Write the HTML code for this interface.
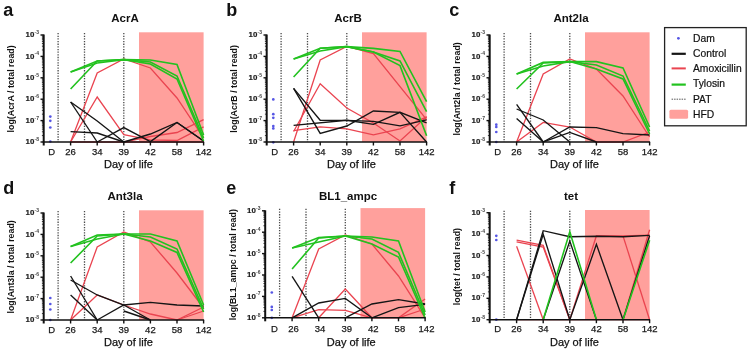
<!DOCTYPE html><html><head><meta charset="utf-8"><style>html,body{margin:0;padding:0;background:#fff;}svg{display:block;filter:blur(0.35px);}</style></head><body>
<svg width="750" height="352" viewBox="0 0 750 352" style="font-family:&quot;Liberation Sans&quot;, sans-serif">
<rect width="750" height="352" fill="#fff"/>
<text x="3.2" y="15.6" font-size="18" font-weight="bold" fill="#111">a</text>
<text x="125" y="22.4" font-size="11.5" font-weight="bold" fill="#111" text-anchor="middle">AcrA</text>
<g transform="translate(0,0)">
<rect x="139" y="32.3" width="64.6" height="109.7" fill="#ffa09c"/>
<line x1="58.1" y1="33" x2="58.1" y2="142" stroke="#4a4a4a" stroke-width="1.3" stroke-dasharray="1.3,1.35"/>
<line x1="84.5" y1="33" x2="84.5" y2="142" stroke="#4a4a4a" stroke-width="1.3" stroke-dasharray="1.3,1.35"/>
<line x1="123.8" y1="33" x2="123.8" y2="142" stroke="#4a4a4a" stroke-width="1.3" stroke-dasharray="1.3,1.35"/>
<circle cx="50.3" cy="116.6" r="1.35" fill="#5656e4"/>
<circle cx="50.3" cy="120.8" r="1.35" fill="#5656e4"/>
<circle cx="50.3" cy="127.5" r="1.35" fill="#5656e4"/>
<circle cx="50.3" cy="141.5" r="1.35" fill="#5656e4"/>
<polyline points="70.6,142 97.2,73 123.8,59 150.4,68 177,98 203.6,138" fill="none" stroke="#ea4450" stroke-width="1.3" stroke-linejoin="miter"/>
<polyline points="70.6,142 97.2,97 123.8,134.6 150.4,139.8 177,140.5 203.6,126.8" fill="none" stroke="#ea4450" stroke-width="1.3" stroke-linejoin="miter"/>
<polyline points="70.6,142 97.2,142 123.8,142 150.4,142 177,142 203.6,142" fill="none" stroke="#ea4450" stroke-width="1.3" stroke-linejoin="miter"/>
<polyline points="123.8,142 150.4,136.5 177,132.5 203.6,119.6" fill="none" stroke="#ea4450" stroke-width="1.3" stroke-linejoin="miter"/>
<polyline points="70.6,102 97.2,142" fill="none" stroke="#151515" stroke-width="1.35" stroke-linejoin="miter"/>
<polyline points="70.6,102 97.2,121 123.8,142" fill="none" stroke="#151515" stroke-width="1.35" stroke-linejoin="miter"/>
<polyline points="70.6,131.7 97.2,133 123.8,142" fill="none" stroke="#151515" stroke-width="1.35" stroke-linejoin="miter"/>
<polyline points="97.2,142 123.8,127.6 150.4,141.6 177,122.5 203.6,141" fill="none" stroke="#151515" stroke-width="1.35" stroke-linejoin="miter"/>
<polyline points="123.8,142 150.4,134 177,122.5 203.6,141" fill="none" stroke="#151515" stroke-width="1.35" stroke-linejoin="miter"/>
<polyline points="70.6,72 97.2,61 123.8,59.6 150.4,60 177,64.4 203.6,135" fill="none" stroke="#22c21f" stroke-width="1.6" stroke-linejoin="miter"/>
<polyline points="70.6,89 97.2,61 123.8,59.6 150.4,62 177,76 203.6,138" fill="none" stroke="#22c21f" stroke-width="1.6" stroke-linejoin="miter"/>
<polyline points="70.6,72 97.2,63 123.8,59.6 150.4,64 177,79 203.6,141" fill="none" stroke="#22c21f" stroke-width="1.6" stroke-linejoin="miter"/>
<line x1="43.7" y1="34.5" x2="43.7" y2="145.5" stroke="#111" stroke-width="2"/>
<line x1="42.7" y1="142" x2="204.1" y2="142" stroke="#111" stroke-width="1.5"/>
<line x1="40.5" y1="35" x2="43.7" y2="35" stroke="#111" stroke-width="1.4"/>
<text x="34.3" y="37.2" font-size="7.9" font-weight="bold" fill="#1a1a1a" stroke="#1a1a1a" stroke-width="0.2" text-anchor="end">10</text>
<text x="34.6" y="34" font-size="5" font-weight="bold" fill="#444">-3</text>
<line x1="41.9" y1="49.96" x2="43.7" y2="49.96" stroke="#111" stroke-width="0.8"/>
<line x1="41.9" y1="46.19" x2="43.7" y2="46.19" stroke="#111" stroke-width="0.8"/>
<line x1="41.9" y1="43.52" x2="43.7" y2="43.52" stroke="#111" stroke-width="0.8"/>
<line x1="41.9" y1="41.44" x2="43.7" y2="41.44" stroke="#111" stroke-width="0.8"/>
<line x1="41.9" y1="39.75" x2="43.7" y2="39.75" stroke="#111" stroke-width="0.8"/>
<line x1="41.9" y1="38.31" x2="43.7" y2="38.31" stroke="#111" stroke-width="0.8"/>
<line x1="41.9" y1="37.07" x2="43.7" y2="37.07" stroke="#111" stroke-width="0.8"/>
<line x1="41.9" y1="35.98" x2="43.7" y2="35.98" stroke="#111" stroke-width="0.8"/>
<line x1="40.5" y1="56.4" x2="43.7" y2="56.4" stroke="#111" stroke-width="1.4"/>
<text x="34.3" y="58.6" font-size="7.9" font-weight="bold" fill="#1a1a1a" stroke="#1a1a1a" stroke-width="0.2" text-anchor="end">10</text>
<text x="34.6" y="55.4" font-size="5" font-weight="bold" fill="#444">-4</text>
<line x1="41.9" y1="71.36" x2="43.7" y2="71.36" stroke="#111" stroke-width="0.8"/>
<line x1="41.9" y1="67.59" x2="43.7" y2="67.59" stroke="#111" stroke-width="0.8"/>
<line x1="41.9" y1="64.92" x2="43.7" y2="64.92" stroke="#111" stroke-width="0.8"/>
<line x1="41.9" y1="62.84" x2="43.7" y2="62.84" stroke="#111" stroke-width="0.8"/>
<line x1="41.9" y1="61.15" x2="43.7" y2="61.15" stroke="#111" stroke-width="0.8"/>
<line x1="41.9" y1="59.71" x2="43.7" y2="59.71" stroke="#111" stroke-width="0.8"/>
<line x1="41.9" y1="58.47" x2="43.7" y2="58.47" stroke="#111" stroke-width="0.8"/>
<line x1="41.9" y1="57.38" x2="43.7" y2="57.38" stroke="#111" stroke-width="0.8"/>
<line x1="40.5" y1="77.8" x2="43.7" y2="77.8" stroke="#111" stroke-width="1.4"/>
<text x="34.3" y="80" font-size="7.9" font-weight="bold" fill="#1a1a1a" stroke="#1a1a1a" stroke-width="0.2" text-anchor="end">10</text>
<text x="34.6" y="76.8" font-size="5" font-weight="bold" fill="#444">-5</text>
<line x1="41.9" y1="92.76" x2="43.7" y2="92.76" stroke="#111" stroke-width="0.8"/>
<line x1="41.9" y1="88.99" x2="43.7" y2="88.99" stroke="#111" stroke-width="0.8"/>
<line x1="41.9" y1="86.32" x2="43.7" y2="86.32" stroke="#111" stroke-width="0.8"/>
<line x1="41.9" y1="84.24" x2="43.7" y2="84.24" stroke="#111" stroke-width="0.8"/>
<line x1="41.9" y1="82.55" x2="43.7" y2="82.55" stroke="#111" stroke-width="0.8"/>
<line x1="41.9" y1="81.11" x2="43.7" y2="81.11" stroke="#111" stroke-width="0.8"/>
<line x1="41.9" y1="79.87" x2="43.7" y2="79.87" stroke="#111" stroke-width="0.8"/>
<line x1="41.9" y1="78.78" x2="43.7" y2="78.78" stroke="#111" stroke-width="0.8"/>
<line x1="40.5" y1="99.2" x2="43.7" y2="99.2" stroke="#111" stroke-width="1.4"/>
<text x="34.3" y="101.4" font-size="7.9" font-weight="bold" fill="#1a1a1a" stroke="#1a1a1a" stroke-width="0.2" text-anchor="end">10</text>
<text x="34.6" y="98.2" font-size="5" font-weight="bold" fill="#444">-6</text>
<line x1="41.9" y1="114.16" x2="43.7" y2="114.16" stroke="#111" stroke-width="0.8"/>
<line x1="41.9" y1="110.39" x2="43.7" y2="110.39" stroke="#111" stroke-width="0.8"/>
<line x1="41.9" y1="107.72" x2="43.7" y2="107.72" stroke="#111" stroke-width="0.8"/>
<line x1="41.9" y1="105.64" x2="43.7" y2="105.64" stroke="#111" stroke-width="0.8"/>
<line x1="41.9" y1="103.95" x2="43.7" y2="103.95" stroke="#111" stroke-width="0.8"/>
<line x1="41.9" y1="102.51" x2="43.7" y2="102.51" stroke="#111" stroke-width="0.8"/>
<line x1="41.9" y1="101.27" x2="43.7" y2="101.27" stroke="#111" stroke-width="0.8"/>
<line x1="41.9" y1="100.18" x2="43.7" y2="100.18" stroke="#111" stroke-width="0.8"/>
<line x1="40.5" y1="120.6" x2="43.7" y2="120.6" stroke="#111" stroke-width="1.4"/>
<text x="34.3" y="122.8" font-size="7.9" font-weight="bold" fill="#1a1a1a" stroke="#1a1a1a" stroke-width="0.2" text-anchor="end">10</text>
<text x="34.6" y="119.6" font-size="5" font-weight="bold" fill="#444">-7</text>
<line x1="41.9" y1="135.56" x2="43.7" y2="135.56" stroke="#111" stroke-width="0.8"/>
<line x1="41.9" y1="131.79" x2="43.7" y2="131.79" stroke="#111" stroke-width="0.8"/>
<line x1="41.9" y1="129.12" x2="43.7" y2="129.12" stroke="#111" stroke-width="0.8"/>
<line x1="41.9" y1="127.04" x2="43.7" y2="127.04" stroke="#111" stroke-width="0.8"/>
<line x1="41.9" y1="125.35" x2="43.7" y2="125.35" stroke="#111" stroke-width="0.8"/>
<line x1="41.9" y1="123.91" x2="43.7" y2="123.91" stroke="#111" stroke-width="0.8"/>
<line x1="41.9" y1="122.67" x2="43.7" y2="122.67" stroke="#111" stroke-width="0.8"/>
<line x1="41.9" y1="121.58" x2="43.7" y2="121.58" stroke="#111" stroke-width="0.8"/>
<line x1="40.5" y1="142" x2="43.7" y2="142" stroke="#111" stroke-width="1.4"/>
<text x="34.3" y="144.2" font-size="7.9" font-weight="bold" fill="#1a1a1a" stroke="#1a1a1a" stroke-width="0.2" text-anchor="end">10</text>
<text x="34.6" y="141" font-size="5" font-weight="bold" fill="#444">-8</text>
<line x1="70.6" y1="142" x2="70.6" y2="145.5" stroke="#111" stroke-width="1.4"/>
<text x="70.6" y="154.6" font-size="9.5" fill="#1a1a1a" stroke="#1a1a1a" stroke-width="0.25" text-anchor="middle">26</text>
<line x1="97.2" y1="142" x2="97.2" y2="145.5" stroke="#111" stroke-width="1.4"/>
<text x="97.2" y="154.6" font-size="9.5" fill="#1a1a1a" stroke="#1a1a1a" stroke-width="0.25" text-anchor="middle">34</text>
<line x1="123.8" y1="142" x2="123.8" y2="145.5" stroke="#111" stroke-width="1.4"/>
<text x="123.8" y="154.6" font-size="9.5" fill="#1a1a1a" stroke="#1a1a1a" stroke-width="0.25" text-anchor="middle">39</text>
<line x1="150.4" y1="142" x2="150.4" y2="145.5" stroke="#111" stroke-width="1.4"/>
<text x="150.4" y="154.6" font-size="9.5" fill="#1a1a1a" stroke="#1a1a1a" stroke-width="0.25" text-anchor="middle">42</text>
<line x1="177" y1="142" x2="177" y2="145.5" stroke="#111" stroke-width="1.4"/>
<text x="177" y="154.6" font-size="9.5" fill="#1a1a1a" stroke="#1a1a1a" stroke-width="0.25" text-anchor="middle">58</text>
<line x1="203.6" y1="142" x2="203.6" y2="145.5" stroke="#111" stroke-width="1.4"/>
<text x="203.6" y="154.6" font-size="9.5" fill="#1a1a1a" stroke="#1a1a1a" stroke-width="0.25" text-anchor="middle">142</text>
<text x="51.6" y="154.6" font-size="9.5" fill="#1a1a1a" stroke="#1a1a1a" stroke-width="0.25" text-anchor="middle">D</text>
<text x="128.4" y="168" font-size="11" fill="#111" stroke="#111" stroke-width="0.25" text-anchor="middle">Day of life</text>
<text transform="translate(14.2,88.9) rotate(-90)" font-size="8.85" font-weight="bold" fill="#111" text-anchor="middle">log(AcrA / total read)</text>
</g>
<text x="226.2" y="15.6" font-size="18" font-weight="bold" fill="#111">b</text>
<text x="348" y="22.4" font-size="11.5" font-weight="bold" fill="#111" text-anchor="middle">AcrB</text>
<g transform="translate(223,0)">
<rect x="139" y="32.3" width="64.6" height="109.7" fill="#ffa09c"/>
<line x1="58.1" y1="33" x2="58.1" y2="142" stroke="#4a4a4a" stroke-width="1.3" stroke-dasharray="1.3,1.35"/>
<line x1="84.5" y1="33" x2="84.5" y2="142" stroke="#4a4a4a" stroke-width="1.3" stroke-dasharray="1.3,1.35"/>
<line x1="123.8" y1="33" x2="123.8" y2="142" stroke="#4a4a4a" stroke-width="1.3" stroke-dasharray="1.3,1.35"/>
<circle cx="50.3" cy="99.4" r="1.35" fill="#5656e4"/>
<circle cx="50.3" cy="114.2" r="1.35" fill="#5656e4"/>
<circle cx="50.3" cy="117.8" r="1.35" fill="#5656e4"/>
<circle cx="50.3" cy="126" r="1.35" fill="#5656e4"/>
<circle cx="50.3" cy="128.4" r="1.35" fill="#5656e4"/>
<circle cx="50.3" cy="142.3" r="1.35" fill="#5656e4"/>
<polyline points="70.6,142 97.2,60 123.8,46.4 150.4,53.6 203.6,119.6" fill="none" stroke="#ea4450" stroke-width="1.3" stroke-linejoin="miter"/>
<polyline points="70.6,131.5 97.2,83.7 123.8,108 150.4,123 177,141 203.6,116.8" fill="none" stroke="#ea4450" stroke-width="1.3" stroke-linejoin="miter"/>
<polyline points="70.6,130.6 97.2,126.8 123.8,128.9 150.4,134.9 177,128.9 203.6,116.8" fill="none" stroke="#ea4450" stroke-width="1.3" stroke-linejoin="miter"/>
<polyline points="70.6,88.4 97.2,120.3 123.8,120.3 150.4,121.3 177,125.8 203.6,119.8" fill="none" stroke="#151515" stroke-width="1.35" stroke-linejoin="miter"/>
<polyline points="70.6,88.4 97.2,133.4 123.8,126 150.4,111 177,112.3 203.6,142" fill="none" stroke="#151515" stroke-width="1.35" stroke-linejoin="miter"/>
<polyline points="70.6,125.3 123.8,120.3 150.4,124.3 177,112.3 203.6,122.8" fill="none" stroke="#151515" stroke-width="1.35" stroke-linejoin="miter"/>
<polyline points="70.6,59 97.2,48.3 123.8,46.6 150.4,48.4 177,51.4 203.6,101.7" fill="none" stroke="#22c21f" stroke-width="1.6" stroke-linejoin="miter"/>
<polyline points="70.6,77 97.2,48.3 123.8,46.6 150.4,52 177,61 203.6,111.7" fill="none" stroke="#22c21f" stroke-width="1.6" stroke-linejoin="miter"/>
<polyline points="70.6,59 97.2,51 123.8,46.6 150.4,52 177,65.6 203.6,135.8" fill="none" stroke="#22c21f" stroke-width="1.6" stroke-linejoin="miter"/>
<line x1="43.7" y1="34.5" x2="43.7" y2="145.5" stroke="#111" stroke-width="2"/>
<line x1="42.7" y1="142" x2="204.1" y2="142" stroke="#111" stroke-width="1.5"/>
<line x1="40.5" y1="35" x2="43.7" y2="35" stroke="#111" stroke-width="1.4"/>
<text x="34.3" y="37.2" font-size="7.9" font-weight="bold" fill="#1a1a1a" stroke="#1a1a1a" stroke-width="0.2" text-anchor="end">10</text>
<text x="34.6" y="34" font-size="5" font-weight="bold" fill="#444">-3</text>
<line x1="41.9" y1="49.96" x2="43.7" y2="49.96" stroke="#111" stroke-width="0.8"/>
<line x1="41.9" y1="46.19" x2="43.7" y2="46.19" stroke="#111" stroke-width="0.8"/>
<line x1="41.9" y1="43.52" x2="43.7" y2="43.52" stroke="#111" stroke-width="0.8"/>
<line x1="41.9" y1="41.44" x2="43.7" y2="41.44" stroke="#111" stroke-width="0.8"/>
<line x1="41.9" y1="39.75" x2="43.7" y2="39.75" stroke="#111" stroke-width="0.8"/>
<line x1="41.9" y1="38.31" x2="43.7" y2="38.31" stroke="#111" stroke-width="0.8"/>
<line x1="41.9" y1="37.07" x2="43.7" y2="37.07" stroke="#111" stroke-width="0.8"/>
<line x1="41.9" y1="35.98" x2="43.7" y2="35.98" stroke="#111" stroke-width="0.8"/>
<line x1="40.5" y1="56.4" x2="43.7" y2="56.4" stroke="#111" stroke-width="1.4"/>
<text x="34.3" y="58.6" font-size="7.9" font-weight="bold" fill="#1a1a1a" stroke="#1a1a1a" stroke-width="0.2" text-anchor="end">10</text>
<text x="34.6" y="55.4" font-size="5" font-weight="bold" fill="#444">-4</text>
<line x1="41.9" y1="71.36" x2="43.7" y2="71.36" stroke="#111" stroke-width="0.8"/>
<line x1="41.9" y1="67.59" x2="43.7" y2="67.59" stroke="#111" stroke-width="0.8"/>
<line x1="41.9" y1="64.92" x2="43.7" y2="64.92" stroke="#111" stroke-width="0.8"/>
<line x1="41.9" y1="62.84" x2="43.7" y2="62.84" stroke="#111" stroke-width="0.8"/>
<line x1="41.9" y1="61.15" x2="43.7" y2="61.15" stroke="#111" stroke-width="0.8"/>
<line x1="41.9" y1="59.71" x2="43.7" y2="59.71" stroke="#111" stroke-width="0.8"/>
<line x1="41.9" y1="58.47" x2="43.7" y2="58.47" stroke="#111" stroke-width="0.8"/>
<line x1="41.9" y1="57.38" x2="43.7" y2="57.38" stroke="#111" stroke-width="0.8"/>
<line x1="40.5" y1="77.8" x2="43.7" y2="77.8" stroke="#111" stroke-width="1.4"/>
<text x="34.3" y="80" font-size="7.9" font-weight="bold" fill="#1a1a1a" stroke="#1a1a1a" stroke-width="0.2" text-anchor="end">10</text>
<text x="34.6" y="76.8" font-size="5" font-weight="bold" fill="#444">-5</text>
<line x1="41.9" y1="92.76" x2="43.7" y2="92.76" stroke="#111" stroke-width="0.8"/>
<line x1="41.9" y1="88.99" x2="43.7" y2="88.99" stroke="#111" stroke-width="0.8"/>
<line x1="41.9" y1="86.32" x2="43.7" y2="86.32" stroke="#111" stroke-width="0.8"/>
<line x1="41.9" y1="84.24" x2="43.7" y2="84.24" stroke="#111" stroke-width="0.8"/>
<line x1="41.9" y1="82.55" x2="43.7" y2="82.55" stroke="#111" stroke-width="0.8"/>
<line x1="41.9" y1="81.11" x2="43.7" y2="81.11" stroke="#111" stroke-width="0.8"/>
<line x1="41.9" y1="79.87" x2="43.7" y2="79.87" stroke="#111" stroke-width="0.8"/>
<line x1="41.9" y1="78.78" x2="43.7" y2="78.78" stroke="#111" stroke-width="0.8"/>
<line x1="40.5" y1="99.2" x2="43.7" y2="99.2" stroke="#111" stroke-width="1.4"/>
<text x="34.3" y="101.4" font-size="7.9" font-weight="bold" fill="#1a1a1a" stroke="#1a1a1a" stroke-width="0.2" text-anchor="end">10</text>
<text x="34.6" y="98.2" font-size="5" font-weight="bold" fill="#444">-6</text>
<line x1="41.9" y1="114.16" x2="43.7" y2="114.16" stroke="#111" stroke-width="0.8"/>
<line x1="41.9" y1="110.39" x2="43.7" y2="110.39" stroke="#111" stroke-width="0.8"/>
<line x1="41.9" y1="107.72" x2="43.7" y2="107.72" stroke="#111" stroke-width="0.8"/>
<line x1="41.9" y1="105.64" x2="43.7" y2="105.64" stroke="#111" stroke-width="0.8"/>
<line x1="41.9" y1="103.95" x2="43.7" y2="103.95" stroke="#111" stroke-width="0.8"/>
<line x1="41.9" y1="102.51" x2="43.7" y2="102.51" stroke="#111" stroke-width="0.8"/>
<line x1="41.9" y1="101.27" x2="43.7" y2="101.27" stroke="#111" stroke-width="0.8"/>
<line x1="41.9" y1="100.18" x2="43.7" y2="100.18" stroke="#111" stroke-width="0.8"/>
<line x1="40.5" y1="120.6" x2="43.7" y2="120.6" stroke="#111" stroke-width="1.4"/>
<text x="34.3" y="122.8" font-size="7.9" font-weight="bold" fill="#1a1a1a" stroke="#1a1a1a" stroke-width="0.2" text-anchor="end">10</text>
<text x="34.6" y="119.6" font-size="5" font-weight="bold" fill="#444">-7</text>
<line x1="41.9" y1="135.56" x2="43.7" y2="135.56" stroke="#111" stroke-width="0.8"/>
<line x1="41.9" y1="131.79" x2="43.7" y2="131.79" stroke="#111" stroke-width="0.8"/>
<line x1="41.9" y1="129.12" x2="43.7" y2="129.12" stroke="#111" stroke-width="0.8"/>
<line x1="41.9" y1="127.04" x2="43.7" y2="127.04" stroke="#111" stroke-width="0.8"/>
<line x1="41.9" y1="125.35" x2="43.7" y2="125.35" stroke="#111" stroke-width="0.8"/>
<line x1="41.9" y1="123.91" x2="43.7" y2="123.91" stroke="#111" stroke-width="0.8"/>
<line x1="41.9" y1="122.67" x2="43.7" y2="122.67" stroke="#111" stroke-width="0.8"/>
<line x1="41.9" y1="121.58" x2="43.7" y2="121.58" stroke="#111" stroke-width="0.8"/>
<line x1="40.5" y1="142" x2="43.7" y2="142" stroke="#111" stroke-width="1.4"/>
<text x="34.3" y="144.2" font-size="7.9" font-weight="bold" fill="#1a1a1a" stroke="#1a1a1a" stroke-width="0.2" text-anchor="end">10</text>
<text x="34.6" y="141" font-size="5" font-weight="bold" fill="#444">-8</text>
<line x1="70.6" y1="142" x2="70.6" y2="145.5" stroke="#111" stroke-width="1.4"/>
<text x="70.6" y="154.6" font-size="9.5" fill="#1a1a1a" stroke="#1a1a1a" stroke-width="0.25" text-anchor="middle">26</text>
<line x1="97.2" y1="142" x2="97.2" y2="145.5" stroke="#111" stroke-width="1.4"/>
<text x="97.2" y="154.6" font-size="9.5" fill="#1a1a1a" stroke="#1a1a1a" stroke-width="0.25" text-anchor="middle">34</text>
<line x1="123.8" y1="142" x2="123.8" y2="145.5" stroke="#111" stroke-width="1.4"/>
<text x="123.8" y="154.6" font-size="9.5" fill="#1a1a1a" stroke="#1a1a1a" stroke-width="0.25" text-anchor="middle">39</text>
<line x1="150.4" y1="142" x2="150.4" y2="145.5" stroke="#111" stroke-width="1.4"/>
<text x="150.4" y="154.6" font-size="9.5" fill="#1a1a1a" stroke="#1a1a1a" stroke-width="0.25" text-anchor="middle">42</text>
<line x1="177" y1="142" x2="177" y2="145.5" stroke="#111" stroke-width="1.4"/>
<text x="177" y="154.6" font-size="9.5" fill="#1a1a1a" stroke="#1a1a1a" stroke-width="0.25" text-anchor="middle">58</text>
<line x1="203.6" y1="142" x2="203.6" y2="145.5" stroke="#111" stroke-width="1.4"/>
<text x="203.6" y="154.6" font-size="9.5" fill="#1a1a1a" stroke="#1a1a1a" stroke-width="0.25" text-anchor="middle">142</text>
<text x="51.6" y="154.6" font-size="9.5" fill="#1a1a1a" stroke="#1a1a1a" stroke-width="0.25" text-anchor="middle">D</text>
<text x="128.4" y="168" font-size="11" fill="#111" stroke="#111" stroke-width="0.25" text-anchor="middle">Day of life</text>
<text transform="translate(14.2,88.9) rotate(-90)" font-size="8.85" font-weight="bold" fill="#111" text-anchor="middle">log(AcrB / total read)</text>
</g>
<text x="449.2" y="15.6" font-size="18" font-weight="bold" fill="#111">c</text>
<text x="571" y="22.4" font-size="11.5" font-weight="bold" fill="#111" text-anchor="middle">Ant2la</text>
<g transform="translate(446,0)">
<rect x="139" y="32.3" width="64.6" height="109.7" fill="#ffa09c"/>
<line x1="58.1" y1="33" x2="58.1" y2="142" stroke="#4a4a4a" stroke-width="1.3" stroke-dasharray="1.3,1.35"/>
<line x1="84.5" y1="33" x2="84.5" y2="142" stroke="#4a4a4a" stroke-width="1.3" stroke-dasharray="1.3,1.35"/>
<line x1="123.8" y1="33" x2="123.8" y2="142" stroke="#4a4a4a" stroke-width="1.3" stroke-dasharray="1.3,1.35"/>
<circle cx="50.3" cy="124.7" r="1.35" fill="#5656e4"/>
<circle cx="50.3" cy="127" r="1.35" fill="#5656e4"/>
<circle cx="50.3" cy="132" r="1.35" fill="#5656e4"/>
<circle cx="50.3" cy="142" r="1.35" fill="#5656e4"/>
<polyline points="70.6,142 97.2,74 123.8,59 150.4,69 177,96 203.6,137" fill="none" stroke="#ea4450" stroke-width="1.3" stroke-linejoin="miter"/>
<polyline points="70.6,142 97.2,122.4 123.8,127 150.4,142 177,142 203.6,132" fill="none" stroke="#ea4450" stroke-width="1.3" stroke-linejoin="miter"/>
<polyline points="70.6,104.4 97.2,142" fill="none" stroke="#151515" stroke-width="1.35" stroke-linejoin="miter"/>
<polyline points="70.6,109 97.2,120 123.8,142" fill="none" stroke="#151515" stroke-width="1.35" stroke-linejoin="miter"/>
<polyline points="70.6,118.4 97.2,142 123.8,132.4 150.4,142" fill="none" stroke="#151515" stroke-width="1.35" stroke-linejoin="miter"/>
<polyline points="97.2,142 123.8,127 150.4,127.6 177,133.6 203.6,135" fill="none" stroke="#151515" stroke-width="1.35" stroke-linejoin="miter"/>
<polyline points="70.6,74 97.2,62.4 123.8,61.6 150.4,61.6 177,68 203.6,127" fill="none" stroke="#22c21f" stroke-width="1.6" stroke-linejoin="miter"/>
<polyline points="70.6,89 97.2,63 123.8,61.6 150.4,65 177,76 203.6,131" fill="none" stroke="#22c21f" stroke-width="1.6" stroke-linejoin="miter"/>
<polyline points="70.6,74 97.2,66 123.8,61.6 150.4,69 177,79 203.6,134" fill="none" stroke="#22c21f" stroke-width="1.6" stroke-linejoin="miter"/>
<line x1="43.7" y1="34.5" x2="43.7" y2="145.5" stroke="#111" stroke-width="2"/>
<line x1="42.7" y1="142" x2="204.1" y2="142" stroke="#111" stroke-width="1.5"/>
<line x1="40.5" y1="35" x2="43.7" y2="35" stroke="#111" stroke-width="1.4"/>
<text x="34.3" y="37.2" font-size="7.9" font-weight="bold" fill="#1a1a1a" stroke="#1a1a1a" stroke-width="0.2" text-anchor="end">10</text>
<text x="34.6" y="34" font-size="5" font-weight="bold" fill="#444">-3</text>
<line x1="41.9" y1="49.96" x2="43.7" y2="49.96" stroke="#111" stroke-width="0.8"/>
<line x1="41.9" y1="46.19" x2="43.7" y2="46.19" stroke="#111" stroke-width="0.8"/>
<line x1="41.9" y1="43.52" x2="43.7" y2="43.52" stroke="#111" stroke-width="0.8"/>
<line x1="41.9" y1="41.44" x2="43.7" y2="41.44" stroke="#111" stroke-width="0.8"/>
<line x1="41.9" y1="39.75" x2="43.7" y2="39.75" stroke="#111" stroke-width="0.8"/>
<line x1="41.9" y1="38.31" x2="43.7" y2="38.31" stroke="#111" stroke-width="0.8"/>
<line x1="41.9" y1="37.07" x2="43.7" y2="37.07" stroke="#111" stroke-width="0.8"/>
<line x1="41.9" y1="35.98" x2="43.7" y2="35.98" stroke="#111" stroke-width="0.8"/>
<line x1="40.5" y1="56.4" x2="43.7" y2="56.4" stroke="#111" stroke-width="1.4"/>
<text x="34.3" y="58.6" font-size="7.9" font-weight="bold" fill="#1a1a1a" stroke="#1a1a1a" stroke-width="0.2" text-anchor="end">10</text>
<text x="34.6" y="55.4" font-size="5" font-weight="bold" fill="#444">-4</text>
<line x1="41.9" y1="71.36" x2="43.7" y2="71.36" stroke="#111" stroke-width="0.8"/>
<line x1="41.9" y1="67.59" x2="43.7" y2="67.59" stroke="#111" stroke-width="0.8"/>
<line x1="41.9" y1="64.92" x2="43.7" y2="64.92" stroke="#111" stroke-width="0.8"/>
<line x1="41.9" y1="62.84" x2="43.7" y2="62.84" stroke="#111" stroke-width="0.8"/>
<line x1="41.9" y1="61.15" x2="43.7" y2="61.15" stroke="#111" stroke-width="0.8"/>
<line x1="41.9" y1="59.71" x2="43.7" y2="59.71" stroke="#111" stroke-width="0.8"/>
<line x1="41.9" y1="58.47" x2="43.7" y2="58.47" stroke="#111" stroke-width="0.8"/>
<line x1="41.9" y1="57.38" x2="43.7" y2="57.38" stroke="#111" stroke-width="0.8"/>
<line x1="40.5" y1="77.8" x2="43.7" y2="77.8" stroke="#111" stroke-width="1.4"/>
<text x="34.3" y="80" font-size="7.9" font-weight="bold" fill="#1a1a1a" stroke="#1a1a1a" stroke-width="0.2" text-anchor="end">10</text>
<text x="34.6" y="76.8" font-size="5" font-weight="bold" fill="#444">-5</text>
<line x1="41.9" y1="92.76" x2="43.7" y2="92.76" stroke="#111" stroke-width="0.8"/>
<line x1="41.9" y1="88.99" x2="43.7" y2="88.99" stroke="#111" stroke-width="0.8"/>
<line x1="41.9" y1="86.32" x2="43.7" y2="86.32" stroke="#111" stroke-width="0.8"/>
<line x1="41.9" y1="84.24" x2="43.7" y2="84.24" stroke="#111" stroke-width="0.8"/>
<line x1="41.9" y1="82.55" x2="43.7" y2="82.55" stroke="#111" stroke-width="0.8"/>
<line x1="41.9" y1="81.11" x2="43.7" y2="81.11" stroke="#111" stroke-width="0.8"/>
<line x1="41.9" y1="79.87" x2="43.7" y2="79.87" stroke="#111" stroke-width="0.8"/>
<line x1="41.9" y1="78.78" x2="43.7" y2="78.78" stroke="#111" stroke-width="0.8"/>
<line x1="40.5" y1="99.2" x2="43.7" y2="99.2" stroke="#111" stroke-width="1.4"/>
<text x="34.3" y="101.4" font-size="7.9" font-weight="bold" fill="#1a1a1a" stroke="#1a1a1a" stroke-width="0.2" text-anchor="end">10</text>
<text x="34.6" y="98.2" font-size="5" font-weight="bold" fill="#444">-6</text>
<line x1="41.9" y1="114.16" x2="43.7" y2="114.16" stroke="#111" stroke-width="0.8"/>
<line x1="41.9" y1="110.39" x2="43.7" y2="110.39" stroke="#111" stroke-width="0.8"/>
<line x1="41.9" y1="107.72" x2="43.7" y2="107.72" stroke="#111" stroke-width="0.8"/>
<line x1="41.9" y1="105.64" x2="43.7" y2="105.64" stroke="#111" stroke-width="0.8"/>
<line x1="41.9" y1="103.95" x2="43.7" y2="103.95" stroke="#111" stroke-width="0.8"/>
<line x1="41.9" y1="102.51" x2="43.7" y2="102.51" stroke="#111" stroke-width="0.8"/>
<line x1="41.9" y1="101.27" x2="43.7" y2="101.27" stroke="#111" stroke-width="0.8"/>
<line x1="41.9" y1="100.18" x2="43.7" y2="100.18" stroke="#111" stroke-width="0.8"/>
<line x1="40.5" y1="120.6" x2="43.7" y2="120.6" stroke="#111" stroke-width="1.4"/>
<text x="34.3" y="122.8" font-size="7.9" font-weight="bold" fill="#1a1a1a" stroke="#1a1a1a" stroke-width="0.2" text-anchor="end">10</text>
<text x="34.6" y="119.6" font-size="5" font-weight="bold" fill="#444">-7</text>
<line x1="41.9" y1="135.56" x2="43.7" y2="135.56" stroke="#111" stroke-width="0.8"/>
<line x1="41.9" y1="131.79" x2="43.7" y2="131.79" stroke="#111" stroke-width="0.8"/>
<line x1="41.9" y1="129.12" x2="43.7" y2="129.12" stroke="#111" stroke-width="0.8"/>
<line x1="41.9" y1="127.04" x2="43.7" y2="127.04" stroke="#111" stroke-width="0.8"/>
<line x1="41.9" y1="125.35" x2="43.7" y2="125.35" stroke="#111" stroke-width="0.8"/>
<line x1="41.9" y1="123.91" x2="43.7" y2="123.91" stroke="#111" stroke-width="0.8"/>
<line x1="41.9" y1="122.67" x2="43.7" y2="122.67" stroke="#111" stroke-width="0.8"/>
<line x1="41.9" y1="121.58" x2="43.7" y2="121.58" stroke="#111" stroke-width="0.8"/>
<line x1="40.5" y1="142" x2="43.7" y2="142" stroke="#111" stroke-width="1.4"/>
<text x="34.3" y="144.2" font-size="7.9" font-weight="bold" fill="#1a1a1a" stroke="#1a1a1a" stroke-width="0.2" text-anchor="end">10</text>
<text x="34.6" y="141" font-size="5" font-weight="bold" fill="#444">-8</text>
<line x1="70.6" y1="142" x2="70.6" y2="145.5" stroke="#111" stroke-width="1.4"/>
<text x="70.6" y="154.6" font-size="9.5" fill="#1a1a1a" stroke="#1a1a1a" stroke-width="0.25" text-anchor="middle">26</text>
<line x1="97.2" y1="142" x2="97.2" y2="145.5" stroke="#111" stroke-width="1.4"/>
<text x="97.2" y="154.6" font-size="9.5" fill="#1a1a1a" stroke="#1a1a1a" stroke-width="0.25" text-anchor="middle">34</text>
<line x1="123.8" y1="142" x2="123.8" y2="145.5" stroke="#111" stroke-width="1.4"/>
<text x="123.8" y="154.6" font-size="9.5" fill="#1a1a1a" stroke="#1a1a1a" stroke-width="0.25" text-anchor="middle">39</text>
<line x1="150.4" y1="142" x2="150.4" y2="145.5" stroke="#111" stroke-width="1.4"/>
<text x="150.4" y="154.6" font-size="9.5" fill="#1a1a1a" stroke="#1a1a1a" stroke-width="0.25" text-anchor="middle">42</text>
<line x1="177" y1="142" x2="177" y2="145.5" stroke="#111" stroke-width="1.4"/>
<text x="177" y="154.6" font-size="9.5" fill="#1a1a1a" stroke="#1a1a1a" stroke-width="0.25" text-anchor="middle">58</text>
<line x1="203.6" y1="142" x2="203.6" y2="145.5" stroke="#111" stroke-width="1.4"/>
<text x="203.6" y="154.6" font-size="9.5" fill="#1a1a1a" stroke="#1a1a1a" stroke-width="0.25" text-anchor="middle">142</text>
<text x="51.6" y="154.6" font-size="9.5" fill="#1a1a1a" stroke="#1a1a1a" stroke-width="0.25" text-anchor="middle">D</text>
<text x="128.4" y="168" font-size="11" fill="#111" stroke="#111" stroke-width="0.25" text-anchor="middle">Day of life</text>
<text transform="translate(14.2,88.9) rotate(-90)" font-size="8.85" font-weight="bold" fill="#111" text-anchor="middle">log(Ant2la / total read)</text>
</g>
<text x="3.2" y="193.6" font-size="18" font-weight="bold" fill="#111">d</text>
<text x="125" y="200.4" font-size="11.5" font-weight="bold" fill="#111" text-anchor="middle">Ant3la</text>
<g transform="translate(0,178)">
<rect x="139" y="32.3" width="64.6" height="109.7" fill="#ffa09c"/>
<line x1="58.1" y1="33" x2="58.1" y2="142" stroke="#4a4a4a" stroke-width="1.3" stroke-dasharray="1.3,1.35"/>
<line x1="84.5" y1="33" x2="84.5" y2="142" stroke="#4a4a4a" stroke-width="1.3" stroke-dasharray="1.3,1.35"/>
<line x1="123.8" y1="33" x2="123.8" y2="142" stroke="#4a4a4a" stroke-width="1.3" stroke-dasharray="1.3,1.35"/>
<circle cx="50.3" cy="120" r="1.35" fill="#5656e4"/>
<circle cx="50.3" cy="126" r="1.35" fill="#5656e4"/>
<circle cx="50.3" cy="131.5" r="1.35" fill="#5656e4"/>
<circle cx="50.3" cy="142" r="1.35" fill="#5656e4"/>
<polyline points="70.6,142 97.2,69 123.8,54 150.4,64 177,95 203.6,130" fill="none" stroke="#ea4450" stroke-width="1.3" stroke-linejoin="miter"/>
<polyline points="70.6,142 97.2,117 123.8,127 150.4,136 177,142 203.6,129" fill="none" stroke="#ea4450" stroke-width="1.3" stroke-linejoin="miter"/>
<polyline points="177,142 203.6,133" fill="none" stroke="#ea4450" stroke-width="1.3" stroke-linejoin="miter"/>
<polyline points="70.6,98 97.2,142" fill="none" stroke="#151515" stroke-width="1.35" stroke-linejoin="miter"/>
<polyline points="70.6,102 97.2,117 123.8,127 150.4,142" fill="none" stroke="#151515" stroke-width="1.35" stroke-linejoin="miter"/>
<polyline points="70.6,117 97.2,142" fill="none" stroke="#151515" stroke-width="1.35" stroke-linejoin="miter"/>
<polyline points="97.2,142 123.8,127 150.4,124.4 177,127 203.6,128" fill="none" stroke="#151515" stroke-width="1.35" stroke-linejoin="miter"/>
<polyline points="123.8,133 150.4,142" fill="none" stroke="#151515" stroke-width="1.35" stroke-linejoin="miter"/>
<polyline points="70.6,68.6 97.2,57 123.8,56 150.4,56 177,63 203.6,127" fill="none" stroke="#22c21f" stroke-width="1.6" stroke-linejoin="miter"/>
<polyline points="70.6,85 97.2,58 123.8,56 150.4,59 177,71 203.6,131" fill="none" stroke="#22c21f" stroke-width="1.6" stroke-linejoin="miter"/>
<polyline points="70.6,68.6 97.2,61 123.8,56 150.4,63 177,74.4 203.6,134" fill="none" stroke="#22c21f" stroke-width="1.6" stroke-linejoin="miter"/>
<line x1="43.7" y1="34.5" x2="43.7" y2="145.5" stroke="#111" stroke-width="2"/>
<line x1="42.7" y1="142" x2="204.1" y2="142" stroke="#111" stroke-width="1.5"/>
<line x1="40.5" y1="35" x2="43.7" y2="35" stroke="#111" stroke-width="1.4"/>
<text x="34.3" y="37.2" font-size="7.9" font-weight="bold" fill="#1a1a1a" stroke="#1a1a1a" stroke-width="0.2" text-anchor="end">10</text>
<text x="34.6" y="34" font-size="5" font-weight="bold" fill="#444">-3</text>
<line x1="41.9" y1="49.96" x2="43.7" y2="49.96" stroke="#111" stroke-width="0.8"/>
<line x1="41.9" y1="46.19" x2="43.7" y2="46.19" stroke="#111" stroke-width="0.8"/>
<line x1="41.9" y1="43.52" x2="43.7" y2="43.52" stroke="#111" stroke-width="0.8"/>
<line x1="41.9" y1="41.44" x2="43.7" y2="41.44" stroke="#111" stroke-width="0.8"/>
<line x1="41.9" y1="39.75" x2="43.7" y2="39.75" stroke="#111" stroke-width="0.8"/>
<line x1="41.9" y1="38.31" x2="43.7" y2="38.31" stroke="#111" stroke-width="0.8"/>
<line x1="41.9" y1="37.07" x2="43.7" y2="37.07" stroke="#111" stroke-width="0.8"/>
<line x1="41.9" y1="35.98" x2="43.7" y2="35.98" stroke="#111" stroke-width="0.8"/>
<line x1="40.5" y1="56.4" x2="43.7" y2="56.4" stroke="#111" stroke-width="1.4"/>
<text x="34.3" y="58.6" font-size="7.9" font-weight="bold" fill="#1a1a1a" stroke="#1a1a1a" stroke-width="0.2" text-anchor="end">10</text>
<text x="34.6" y="55.4" font-size="5" font-weight="bold" fill="#444">-4</text>
<line x1="41.9" y1="71.36" x2="43.7" y2="71.36" stroke="#111" stroke-width="0.8"/>
<line x1="41.9" y1="67.59" x2="43.7" y2="67.59" stroke="#111" stroke-width="0.8"/>
<line x1="41.9" y1="64.92" x2="43.7" y2="64.92" stroke="#111" stroke-width="0.8"/>
<line x1="41.9" y1="62.84" x2="43.7" y2="62.84" stroke="#111" stroke-width="0.8"/>
<line x1="41.9" y1="61.15" x2="43.7" y2="61.15" stroke="#111" stroke-width="0.8"/>
<line x1="41.9" y1="59.71" x2="43.7" y2="59.71" stroke="#111" stroke-width="0.8"/>
<line x1="41.9" y1="58.47" x2="43.7" y2="58.47" stroke="#111" stroke-width="0.8"/>
<line x1="41.9" y1="57.38" x2="43.7" y2="57.38" stroke="#111" stroke-width="0.8"/>
<line x1="40.5" y1="77.8" x2="43.7" y2="77.8" stroke="#111" stroke-width="1.4"/>
<text x="34.3" y="80" font-size="7.9" font-weight="bold" fill="#1a1a1a" stroke="#1a1a1a" stroke-width="0.2" text-anchor="end">10</text>
<text x="34.6" y="76.8" font-size="5" font-weight="bold" fill="#444">-5</text>
<line x1="41.9" y1="92.76" x2="43.7" y2="92.76" stroke="#111" stroke-width="0.8"/>
<line x1="41.9" y1="88.99" x2="43.7" y2="88.99" stroke="#111" stroke-width="0.8"/>
<line x1="41.9" y1="86.32" x2="43.7" y2="86.32" stroke="#111" stroke-width="0.8"/>
<line x1="41.9" y1="84.24" x2="43.7" y2="84.24" stroke="#111" stroke-width="0.8"/>
<line x1="41.9" y1="82.55" x2="43.7" y2="82.55" stroke="#111" stroke-width="0.8"/>
<line x1="41.9" y1="81.11" x2="43.7" y2="81.11" stroke="#111" stroke-width="0.8"/>
<line x1="41.9" y1="79.87" x2="43.7" y2="79.87" stroke="#111" stroke-width="0.8"/>
<line x1="41.9" y1="78.78" x2="43.7" y2="78.78" stroke="#111" stroke-width="0.8"/>
<line x1="40.5" y1="99.2" x2="43.7" y2="99.2" stroke="#111" stroke-width="1.4"/>
<text x="34.3" y="101.4" font-size="7.9" font-weight="bold" fill="#1a1a1a" stroke="#1a1a1a" stroke-width="0.2" text-anchor="end">10</text>
<text x="34.6" y="98.2" font-size="5" font-weight="bold" fill="#444">-6</text>
<line x1="41.9" y1="114.16" x2="43.7" y2="114.16" stroke="#111" stroke-width="0.8"/>
<line x1="41.9" y1="110.39" x2="43.7" y2="110.39" stroke="#111" stroke-width="0.8"/>
<line x1="41.9" y1="107.72" x2="43.7" y2="107.72" stroke="#111" stroke-width="0.8"/>
<line x1="41.9" y1="105.64" x2="43.7" y2="105.64" stroke="#111" stroke-width="0.8"/>
<line x1="41.9" y1="103.95" x2="43.7" y2="103.95" stroke="#111" stroke-width="0.8"/>
<line x1="41.9" y1="102.51" x2="43.7" y2="102.51" stroke="#111" stroke-width="0.8"/>
<line x1="41.9" y1="101.27" x2="43.7" y2="101.27" stroke="#111" stroke-width="0.8"/>
<line x1="41.9" y1="100.18" x2="43.7" y2="100.18" stroke="#111" stroke-width="0.8"/>
<line x1="40.5" y1="120.6" x2="43.7" y2="120.6" stroke="#111" stroke-width="1.4"/>
<text x="34.3" y="122.8" font-size="7.9" font-weight="bold" fill="#1a1a1a" stroke="#1a1a1a" stroke-width="0.2" text-anchor="end">10</text>
<text x="34.6" y="119.6" font-size="5" font-weight="bold" fill="#444">-7</text>
<line x1="41.9" y1="135.56" x2="43.7" y2="135.56" stroke="#111" stroke-width="0.8"/>
<line x1="41.9" y1="131.79" x2="43.7" y2="131.79" stroke="#111" stroke-width="0.8"/>
<line x1="41.9" y1="129.12" x2="43.7" y2="129.12" stroke="#111" stroke-width="0.8"/>
<line x1="41.9" y1="127.04" x2="43.7" y2="127.04" stroke="#111" stroke-width="0.8"/>
<line x1="41.9" y1="125.35" x2="43.7" y2="125.35" stroke="#111" stroke-width="0.8"/>
<line x1="41.9" y1="123.91" x2="43.7" y2="123.91" stroke="#111" stroke-width="0.8"/>
<line x1="41.9" y1="122.67" x2="43.7" y2="122.67" stroke="#111" stroke-width="0.8"/>
<line x1="41.9" y1="121.58" x2="43.7" y2="121.58" stroke="#111" stroke-width="0.8"/>
<line x1="40.5" y1="142" x2="43.7" y2="142" stroke="#111" stroke-width="1.4"/>
<text x="34.3" y="144.2" font-size="7.9" font-weight="bold" fill="#1a1a1a" stroke="#1a1a1a" stroke-width="0.2" text-anchor="end">10</text>
<text x="34.6" y="141" font-size="5" font-weight="bold" fill="#444">-8</text>
<line x1="70.6" y1="142" x2="70.6" y2="145.5" stroke="#111" stroke-width="1.4"/>
<text x="70.6" y="154.6" font-size="9.5" fill="#1a1a1a" stroke="#1a1a1a" stroke-width="0.25" text-anchor="middle">26</text>
<line x1="97.2" y1="142" x2="97.2" y2="145.5" stroke="#111" stroke-width="1.4"/>
<text x="97.2" y="154.6" font-size="9.5" fill="#1a1a1a" stroke="#1a1a1a" stroke-width="0.25" text-anchor="middle">34</text>
<line x1="123.8" y1="142" x2="123.8" y2="145.5" stroke="#111" stroke-width="1.4"/>
<text x="123.8" y="154.6" font-size="9.5" fill="#1a1a1a" stroke="#1a1a1a" stroke-width="0.25" text-anchor="middle">39</text>
<line x1="150.4" y1="142" x2="150.4" y2="145.5" stroke="#111" stroke-width="1.4"/>
<text x="150.4" y="154.6" font-size="9.5" fill="#1a1a1a" stroke="#1a1a1a" stroke-width="0.25" text-anchor="middle">42</text>
<line x1="177" y1="142" x2="177" y2="145.5" stroke="#111" stroke-width="1.4"/>
<text x="177" y="154.6" font-size="9.5" fill="#1a1a1a" stroke="#1a1a1a" stroke-width="0.25" text-anchor="middle">58</text>
<line x1="203.6" y1="142" x2="203.6" y2="145.5" stroke="#111" stroke-width="1.4"/>
<text x="203.6" y="154.6" font-size="9.5" fill="#1a1a1a" stroke="#1a1a1a" stroke-width="0.25" text-anchor="middle">142</text>
<text x="51.6" y="154.6" font-size="9.5" fill="#1a1a1a" stroke="#1a1a1a" stroke-width="0.25" text-anchor="middle">D</text>
<text x="128.4" y="168" font-size="11" fill="#111" stroke="#111" stroke-width="0.25" text-anchor="middle">Day of life</text>
<text transform="translate(14.2,88.9) rotate(-90)" font-size="8.85" font-weight="bold" fill="#111" text-anchor="middle">log(Ant3la / total read)</text>
</g>
<text x="226.2" y="193.6" font-size="18" font-weight="bold" fill="#111">e</text>
<text x="348" y="200.4" font-size="11.5" font-weight="bold" fill="#111" text-anchor="middle">BL1_ampc</text>
<g transform="translate(221.5,175.8)">
<rect x="139" y="32.3" width="64.6" height="109.7" fill="#ffa09c"/>
<line x1="58.1" y1="33" x2="58.1" y2="142" stroke="#4a4a4a" stroke-width="1.3" stroke-dasharray="1.3,1.35"/>
<line x1="84.5" y1="33" x2="84.5" y2="142" stroke="#4a4a4a" stroke-width="1.3" stroke-dasharray="1.3,1.35"/>
<line x1="123.8" y1="33" x2="123.8" y2="142" stroke="#4a4a4a" stroke-width="1.3" stroke-dasharray="1.3,1.35"/>
<circle cx="50.3" cy="116.7" r="1.35" fill="#5656e4"/>
<circle cx="50.3" cy="131.1" r="1.35" fill="#5656e4"/>
<circle cx="50.3" cy="134.2" r="1.35" fill="#5656e4"/>
<circle cx="50.3" cy="142" r="1.35" fill="#5656e4"/>
<polyline points="70.6,142 97.2,73.2 123.8,59.2 150.4,68.2 177,100.2 203.6,142" fill="none" stroke="#ea4450" stroke-width="1.3" stroke-linejoin="miter"/>
<polyline points="70.6,142 97.2,133.8 123.8,134.6 150.4,142" fill="none" stroke="#ea4450" stroke-width="1.3" stroke-linejoin="miter"/>
<polyline points="97.2,142 123.8,113.2 150.4,142 177,142 203.6,123.2" fill="none" stroke="#ea4450" stroke-width="1.3" stroke-linejoin="miter"/>
<polyline points="177,142 203.6,133.2" fill="none" stroke="#ea4450" stroke-width="1.3" stroke-linejoin="miter"/>
<polyline points="70.6,100.6 97.2,142" fill="none" stroke="#151515" stroke-width="1.35" stroke-linejoin="miter"/>
<polyline points="70.6,142 97.2,127.2 123.8,122.6 150.4,142" fill="none" stroke="#151515" stroke-width="1.35" stroke-linejoin="miter"/>
<polyline points="123.8,142 150.4,128.2 177,123.8 203.6,128.2" fill="none" stroke="#151515" stroke-width="1.35" stroke-linejoin="miter"/>
<polyline points="150.4,142 177,131.8 203.6,128.6" fill="none" stroke="#151515" stroke-width="1.35" stroke-linejoin="miter"/>
<polyline points="70.6,72.2 97.2,61.8 123.8,60.2 150.4,61.2 177,65.2 203.6,136.2" fill="none" stroke="#22c21f" stroke-width="1.6" stroke-linejoin="miter"/>
<polyline points="70.6,93.2 97.2,62.2 123.8,60.2 150.4,63.2 177,76.6 203.6,139.2" fill="none" stroke="#22c21f" stroke-width="1.6" stroke-linejoin="miter"/>
<polyline points="70.6,72.2 97.2,66.2 123.8,60.2 150.4,68.2 177,81.2 203.6,142.2" fill="none" stroke="#22c21f" stroke-width="1.6" stroke-linejoin="miter"/>
<line x1="43.7" y1="34.5" x2="43.7" y2="145.5" stroke="#111" stroke-width="2"/>
<line x1="42.7" y1="142" x2="204.1" y2="142" stroke="#111" stroke-width="1.5"/>
<line x1="40.5" y1="35" x2="43.7" y2="35" stroke="#111" stroke-width="1.4"/>
<text x="34.3" y="37.2" font-size="7.9" font-weight="bold" fill="#1a1a1a" stroke="#1a1a1a" stroke-width="0.2" text-anchor="end">10</text>
<text x="34.6" y="34" font-size="5" font-weight="bold" fill="#444">-3</text>
<line x1="41.9" y1="49.96" x2="43.7" y2="49.96" stroke="#111" stroke-width="0.8"/>
<line x1="41.9" y1="46.19" x2="43.7" y2="46.19" stroke="#111" stroke-width="0.8"/>
<line x1="41.9" y1="43.52" x2="43.7" y2="43.52" stroke="#111" stroke-width="0.8"/>
<line x1="41.9" y1="41.44" x2="43.7" y2="41.44" stroke="#111" stroke-width="0.8"/>
<line x1="41.9" y1="39.75" x2="43.7" y2="39.75" stroke="#111" stroke-width="0.8"/>
<line x1="41.9" y1="38.31" x2="43.7" y2="38.31" stroke="#111" stroke-width="0.8"/>
<line x1="41.9" y1="37.07" x2="43.7" y2="37.07" stroke="#111" stroke-width="0.8"/>
<line x1="41.9" y1="35.98" x2="43.7" y2="35.98" stroke="#111" stroke-width="0.8"/>
<line x1="40.5" y1="56.4" x2="43.7" y2="56.4" stroke="#111" stroke-width="1.4"/>
<text x="34.3" y="58.6" font-size="7.9" font-weight="bold" fill="#1a1a1a" stroke="#1a1a1a" stroke-width="0.2" text-anchor="end">10</text>
<text x="34.6" y="55.4" font-size="5" font-weight="bold" fill="#444">-4</text>
<line x1="41.9" y1="71.36" x2="43.7" y2="71.36" stroke="#111" stroke-width="0.8"/>
<line x1="41.9" y1="67.59" x2="43.7" y2="67.59" stroke="#111" stroke-width="0.8"/>
<line x1="41.9" y1="64.92" x2="43.7" y2="64.92" stroke="#111" stroke-width="0.8"/>
<line x1="41.9" y1="62.84" x2="43.7" y2="62.84" stroke="#111" stroke-width="0.8"/>
<line x1="41.9" y1="61.15" x2="43.7" y2="61.15" stroke="#111" stroke-width="0.8"/>
<line x1="41.9" y1="59.71" x2="43.7" y2="59.71" stroke="#111" stroke-width="0.8"/>
<line x1="41.9" y1="58.47" x2="43.7" y2="58.47" stroke="#111" stroke-width="0.8"/>
<line x1="41.9" y1="57.38" x2="43.7" y2="57.38" stroke="#111" stroke-width="0.8"/>
<line x1="40.5" y1="77.8" x2="43.7" y2="77.8" stroke="#111" stroke-width="1.4"/>
<text x="34.3" y="80" font-size="7.9" font-weight="bold" fill="#1a1a1a" stroke="#1a1a1a" stroke-width="0.2" text-anchor="end">10</text>
<text x="34.6" y="76.8" font-size="5" font-weight="bold" fill="#444">-5</text>
<line x1="41.9" y1="92.76" x2="43.7" y2="92.76" stroke="#111" stroke-width="0.8"/>
<line x1="41.9" y1="88.99" x2="43.7" y2="88.99" stroke="#111" stroke-width="0.8"/>
<line x1="41.9" y1="86.32" x2="43.7" y2="86.32" stroke="#111" stroke-width="0.8"/>
<line x1="41.9" y1="84.24" x2="43.7" y2="84.24" stroke="#111" stroke-width="0.8"/>
<line x1="41.9" y1="82.55" x2="43.7" y2="82.55" stroke="#111" stroke-width="0.8"/>
<line x1="41.9" y1="81.11" x2="43.7" y2="81.11" stroke="#111" stroke-width="0.8"/>
<line x1="41.9" y1="79.87" x2="43.7" y2="79.87" stroke="#111" stroke-width="0.8"/>
<line x1="41.9" y1="78.78" x2="43.7" y2="78.78" stroke="#111" stroke-width="0.8"/>
<line x1="40.5" y1="99.2" x2="43.7" y2="99.2" stroke="#111" stroke-width="1.4"/>
<text x="34.3" y="101.4" font-size="7.9" font-weight="bold" fill="#1a1a1a" stroke="#1a1a1a" stroke-width="0.2" text-anchor="end">10</text>
<text x="34.6" y="98.2" font-size="5" font-weight="bold" fill="#444">-6</text>
<line x1="41.9" y1="114.16" x2="43.7" y2="114.16" stroke="#111" stroke-width="0.8"/>
<line x1="41.9" y1="110.39" x2="43.7" y2="110.39" stroke="#111" stroke-width="0.8"/>
<line x1="41.9" y1="107.72" x2="43.7" y2="107.72" stroke="#111" stroke-width="0.8"/>
<line x1="41.9" y1="105.64" x2="43.7" y2="105.64" stroke="#111" stroke-width="0.8"/>
<line x1="41.9" y1="103.95" x2="43.7" y2="103.95" stroke="#111" stroke-width="0.8"/>
<line x1="41.9" y1="102.51" x2="43.7" y2="102.51" stroke="#111" stroke-width="0.8"/>
<line x1="41.9" y1="101.27" x2="43.7" y2="101.27" stroke="#111" stroke-width="0.8"/>
<line x1="41.9" y1="100.18" x2="43.7" y2="100.18" stroke="#111" stroke-width="0.8"/>
<line x1="40.5" y1="120.6" x2="43.7" y2="120.6" stroke="#111" stroke-width="1.4"/>
<text x="34.3" y="122.8" font-size="7.9" font-weight="bold" fill="#1a1a1a" stroke="#1a1a1a" stroke-width="0.2" text-anchor="end">10</text>
<text x="34.6" y="119.6" font-size="5" font-weight="bold" fill="#444">-7</text>
<line x1="41.9" y1="135.56" x2="43.7" y2="135.56" stroke="#111" stroke-width="0.8"/>
<line x1="41.9" y1="131.79" x2="43.7" y2="131.79" stroke="#111" stroke-width="0.8"/>
<line x1="41.9" y1="129.12" x2="43.7" y2="129.12" stroke="#111" stroke-width="0.8"/>
<line x1="41.9" y1="127.04" x2="43.7" y2="127.04" stroke="#111" stroke-width="0.8"/>
<line x1="41.9" y1="125.35" x2="43.7" y2="125.35" stroke="#111" stroke-width="0.8"/>
<line x1="41.9" y1="123.91" x2="43.7" y2="123.91" stroke="#111" stroke-width="0.8"/>
<line x1="41.9" y1="122.67" x2="43.7" y2="122.67" stroke="#111" stroke-width="0.8"/>
<line x1="41.9" y1="121.58" x2="43.7" y2="121.58" stroke="#111" stroke-width="0.8"/>
<line x1="40.5" y1="142" x2="43.7" y2="142" stroke="#111" stroke-width="1.4"/>
<text x="34.3" y="144.2" font-size="7.9" font-weight="bold" fill="#1a1a1a" stroke="#1a1a1a" stroke-width="0.2" text-anchor="end">10</text>
<text x="34.6" y="141" font-size="5" font-weight="bold" fill="#444">-8</text>
<line x1="70.6" y1="142" x2="70.6" y2="145.5" stroke="#111" stroke-width="1.4"/>
<text x="72" y="156.4" font-size="9.5" fill="#1a1a1a" stroke="#1a1a1a" stroke-width="0.25" text-anchor="middle">26</text>
<line x1="97.2" y1="142" x2="97.2" y2="145.5" stroke="#111" stroke-width="1.4"/>
<text x="98.6" y="156.4" font-size="9.5" fill="#1a1a1a" stroke="#1a1a1a" stroke-width="0.25" text-anchor="middle">34</text>
<line x1="123.8" y1="142" x2="123.8" y2="145.5" stroke="#111" stroke-width="1.4"/>
<text x="125.2" y="156.4" font-size="9.5" fill="#1a1a1a" stroke="#1a1a1a" stroke-width="0.25" text-anchor="middle">39</text>
<line x1="150.4" y1="142" x2="150.4" y2="145.5" stroke="#111" stroke-width="1.4"/>
<text x="151.8" y="156.4" font-size="9.5" fill="#1a1a1a" stroke="#1a1a1a" stroke-width="0.25" text-anchor="middle">42</text>
<line x1="177" y1="142" x2="177" y2="145.5" stroke="#111" stroke-width="1.4"/>
<text x="178.4" y="156.4" font-size="9.5" fill="#1a1a1a" stroke="#1a1a1a" stroke-width="0.25" text-anchor="middle">58</text>
<line x1="203.6" y1="142" x2="203.6" y2="145.5" stroke="#111" stroke-width="1.4"/>
<text x="205" y="156.4" font-size="9.5" fill="#1a1a1a" stroke="#1a1a1a" stroke-width="0.25" text-anchor="middle">142</text>
<text x="53" y="156.4" font-size="9.5" fill="#1a1a1a" stroke="#1a1a1a" stroke-width="0.25" text-anchor="middle">D</text>
<text x="129.8" y="169.8" font-size="11" fill="#111" stroke="#111" stroke-width="0.25" text-anchor="middle">Day of life</text>
<text transform="translate(14.2,88.9) rotate(-90)" font-size="8.85" font-weight="bold" fill="#111" text-anchor="middle">log(BL1_ampc / total read)</text>
</g>
<text x="449.2" y="193.6" font-size="18" font-weight="bold" fill="#111">f</text>
<text x="571" y="200.4" font-size="11.5" font-weight="bold" fill="#111" text-anchor="middle">tet</text>
<g transform="translate(446,177.7)">
<rect x="139" y="32.3" width="64.6" height="109.7" fill="#ffa09c"/>
<line x1="58.1" y1="33" x2="58.1" y2="142" stroke="#4a4a4a" stroke-width="1.3" stroke-dasharray="1.3,1.35"/>
<line x1="84.5" y1="33" x2="84.5" y2="142" stroke="#4a4a4a" stroke-width="1.3" stroke-dasharray="1.3,1.35"/>
<line x1="123.8" y1="33" x2="123.8" y2="142" stroke="#4a4a4a" stroke-width="1.3" stroke-dasharray="1.3,1.35"/>
<circle cx="50.3" cy="58.1" r="1.35" fill="#5656e4"/>
<circle cx="50.3" cy="62.3" r="1.35" fill="#5656e4"/>
<circle cx="50.3" cy="142" r="1.35" fill="#5656e4"/>
<polyline points="70.6,142 203.6,142" fill="none" stroke="#ea4450" stroke-width="1.3" stroke-linejoin="miter"/>
<polyline points="70.6,62.5 97.2,67.6 123.8,142" fill="none" stroke="#ea4450" stroke-width="1.3" stroke-linejoin="miter"/>
<polyline points="70.6,64.2 97.2,69.3 123.8,142" fill="none" stroke="#ea4450" stroke-width="1.3" stroke-linejoin="miter"/>
<polyline points="70.6,68.5 97.2,142" fill="none" stroke="#ea4450" stroke-width="1.3" stroke-linejoin="miter"/>
<polyline points="123.8,142 150.4,58 177,58.2 203.6,57.4" fill="none" stroke="#ea4450" stroke-width="1.3" stroke-linejoin="miter"/>
<polyline points="177,58.2 203.6,142" fill="none" stroke="#ea4450" stroke-width="1.3" stroke-linejoin="miter"/>
<polyline points="177,142 203.6,52" fill="none" stroke="#ea4450" stroke-width="1.3" stroke-linejoin="miter"/>
<polyline points="70.6,142 97.2,53 123.8,59 150.4,58.6 177,59 203.6,57.7" fill="none" stroke="#151515" stroke-width="1.35" stroke-linejoin="miter"/>
<polyline points="70.6,142 97.2,56.5 123.8,142" fill="none" stroke="#151515" stroke-width="1.35" stroke-linejoin="miter"/>
<polyline points="97.2,142 123.8,63.3 150.4,142" fill="none" stroke="#151515" stroke-width="1.35" stroke-linejoin="miter"/>
<polyline points="123.8,142 150.4,66.7 177,142" fill="none" stroke="#151515" stroke-width="1.35" stroke-linejoin="miter"/>
<polyline points="177,142 203.6,58" fill="none" stroke="#151515" stroke-width="1.35" stroke-linejoin="miter"/>
<polyline points="97.2,142 123.8,54 150.4,142" fill="none" stroke="#22c21f" stroke-width="1.6" stroke-linejoin="miter"/>
<polyline points="177,142 203.6,62.5" fill="none" stroke="#22c21f" stroke-width="1.6" stroke-linejoin="miter"/>
<line x1="43.7" y1="34.5" x2="43.7" y2="145.5" stroke="#111" stroke-width="2"/>
<line x1="42.7" y1="142" x2="204.1" y2="142" stroke="#111" stroke-width="1.5"/>
<line x1="40.5" y1="35" x2="43.7" y2="35" stroke="#111" stroke-width="1.4"/>
<text x="34.3" y="37.2" font-size="7.9" font-weight="bold" fill="#1a1a1a" stroke="#1a1a1a" stroke-width="0.2" text-anchor="end">10</text>
<text x="34.6" y="34" font-size="5" font-weight="bold" fill="#444">-3</text>
<line x1="41.9" y1="49.96" x2="43.7" y2="49.96" stroke="#111" stroke-width="0.8"/>
<line x1="41.9" y1="46.19" x2="43.7" y2="46.19" stroke="#111" stroke-width="0.8"/>
<line x1="41.9" y1="43.52" x2="43.7" y2="43.52" stroke="#111" stroke-width="0.8"/>
<line x1="41.9" y1="41.44" x2="43.7" y2="41.44" stroke="#111" stroke-width="0.8"/>
<line x1="41.9" y1="39.75" x2="43.7" y2="39.75" stroke="#111" stroke-width="0.8"/>
<line x1="41.9" y1="38.31" x2="43.7" y2="38.31" stroke="#111" stroke-width="0.8"/>
<line x1="41.9" y1="37.07" x2="43.7" y2="37.07" stroke="#111" stroke-width="0.8"/>
<line x1="41.9" y1="35.98" x2="43.7" y2="35.98" stroke="#111" stroke-width="0.8"/>
<line x1="40.5" y1="56.4" x2="43.7" y2="56.4" stroke="#111" stroke-width="1.4"/>
<text x="34.3" y="58.6" font-size="7.9" font-weight="bold" fill="#1a1a1a" stroke="#1a1a1a" stroke-width="0.2" text-anchor="end">10</text>
<text x="34.6" y="55.4" font-size="5" font-weight="bold" fill="#444">-4</text>
<line x1="41.9" y1="71.36" x2="43.7" y2="71.36" stroke="#111" stroke-width="0.8"/>
<line x1="41.9" y1="67.59" x2="43.7" y2="67.59" stroke="#111" stroke-width="0.8"/>
<line x1="41.9" y1="64.92" x2="43.7" y2="64.92" stroke="#111" stroke-width="0.8"/>
<line x1="41.9" y1="62.84" x2="43.7" y2="62.84" stroke="#111" stroke-width="0.8"/>
<line x1="41.9" y1="61.15" x2="43.7" y2="61.15" stroke="#111" stroke-width="0.8"/>
<line x1="41.9" y1="59.71" x2="43.7" y2="59.71" stroke="#111" stroke-width="0.8"/>
<line x1="41.9" y1="58.47" x2="43.7" y2="58.47" stroke="#111" stroke-width="0.8"/>
<line x1="41.9" y1="57.38" x2="43.7" y2="57.38" stroke="#111" stroke-width="0.8"/>
<line x1="40.5" y1="77.8" x2="43.7" y2="77.8" stroke="#111" stroke-width="1.4"/>
<text x="34.3" y="80" font-size="7.9" font-weight="bold" fill="#1a1a1a" stroke="#1a1a1a" stroke-width="0.2" text-anchor="end">10</text>
<text x="34.6" y="76.8" font-size="5" font-weight="bold" fill="#444">-5</text>
<line x1="41.9" y1="92.76" x2="43.7" y2="92.76" stroke="#111" stroke-width="0.8"/>
<line x1="41.9" y1="88.99" x2="43.7" y2="88.99" stroke="#111" stroke-width="0.8"/>
<line x1="41.9" y1="86.32" x2="43.7" y2="86.32" stroke="#111" stroke-width="0.8"/>
<line x1="41.9" y1="84.24" x2="43.7" y2="84.24" stroke="#111" stroke-width="0.8"/>
<line x1="41.9" y1="82.55" x2="43.7" y2="82.55" stroke="#111" stroke-width="0.8"/>
<line x1="41.9" y1="81.11" x2="43.7" y2="81.11" stroke="#111" stroke-width="0.8"/>
<line x1="41.9" y1="79.87" x2="43.7" y2="79.87" stroke="#111" stroke-width="0.8"/>
<line x1="41.9" y1="78.78" x2="43.7" y2="78.78" stroke="#111" stroke-width="0.8"/>
<line x1="40.5" y1="99.2" x2="43.7" y2="99.2" stroke="#111" stroke-width="1.4"/>
<text x="34.3" y="101.4" font-size="7.9" font-weight="bold" fill="#1a1a1a" stroke="#1a1a1a" stroke-width="0.2" text-anchor="end">10</text>
<text x="34.6" y="98.2" font-size="5" font-weight="bold" fill="#444">-6</text>
<line x1="41.9" y1="114.16" x2="43.7" y2="114.16" stroke="#111" stroke-width="0.8"/>
<line x1="41.9" y1="110.39" x2="43.7" y2="110.39" stroke="#111" stroke-width="0.8"/>
<line x1="41.9" y1="107.72" x2="43.7" y2="107.72" stroke="#111" stroke-width="0.8"/>
<line x1="41.9" y1="105.64" x2="43.7" y2="105.64" stroke="#111" stroke-width="0.8"/>
<line x1="41.9" y1="103.95" x2="43.7" y2="103.95" stroke="#111" stroke-width="0.8"/>
<line x1="41.9" y1="102.51" x2="43.7" y2="102.51" stroke="#111" stroke-width="0.8"/>
<line x1="41.9" y1="101.27" x2="43.7" y2="101.27" stroke="#111" stroke-width="0.8"/>
<line x1="41.9" y1="100.18" x2="43.7" y2="100.18" stroke="#111" stroke-width="0.8"/>
<line x1="40.5" y1="120.6" x2="43.7" y2="120.6" stroke="#111" stroke-width="1.4"/>
<text x="34.3" y="122.8" font-size="7.9" font-weight="bold" fill="#1a1a1a" stroke="#1a1a1a" stroke-width="0.2" text-anchor="end">10</text>
<text x="34.6" y="119.6" font-size="5" font-weight="bold" fill="#444">-7</text>
<line x1="41.9" y1="135.56" x2="43.7" y2="135.56" stroke="#111" stroke-width="0.8"/>
<line x1="41.9" y1="131.79" x2="43.7" y2="131.79" stroke="#111" stroke-width="0.8"/>
<line x1="41.9" y1="129.12" x2="43.7" y2="129.12" stroke="#111" stroke-width="0.8"/>
<line x1="41.9" y1="127.04" x2="43.7" y2="127.04" stroke="#111" stroke-width="0.8"/>
<line x1="41.9" y1="125.35" x2="43.7" y2="125.35" stroke="#111" stroke-width="0.8"/>
<line x1="41.9" y1="123.91" x2="43.7" y2="123.91" stroke="#111" stroke-width="0.8"/>
<line x1="41.9" y1="122.67" x2="43.7" y2="122.67" stroke="#111" stroke-width="0.8"/>
<line x1="41.9" y1="121.58" x2="43.7" y2="121.58" stroke="#111" stroke-width="0.8"/>
<line x1="40.5" y1="142" x2="43.7" y2="142" stroke="#111" stroke-width="1.4"/>
<text x="34.3" y="144.2" font-size="7.9" font-weight="bold" fill="#1a1a1a" stroke="#1a1a1a" stroke-width="0.2" text-anchor="end">10</text>
<text x="34.6" y="141" font-size="5" font-weight="bold" fill="#444">-8</text>
<line x1="70.6" y1="142" x2="70.6" y2="145.5" stroke="#111" stroke-width="1.4"/>
<text x="70.6" y="154.6" font-size="9.5" fill="#1a1a1a" stroke="#1a1a1a" stroke-width="0.25" text-anchor="middle">26</text>
<line x1="97.2" y1="142" x2="97.2" y2="145.5" stroke="#111" stroke-width="1.4"/>
<text x="97.2" y="154.6" font-size="9.5" fill="#1a1a1a" stroke="#1a1a1a" stroke-width="0.25" text-anchor="middle">34</text>
<line x1="123.8" y1="142" x2="123.8" y2="145.5" stroke="#111" stroke-width="1.4"/>
<text x="123.8" y="154.6" font-size="9.5" fill="#1a1a1a" stroke="#1a1a1a" stroke-width="0.25" text-anchor="middle">39</text>
<line x1="150.4" y1="142" x2="150.4" y2="145.5" stroke="#111" stroke-width="1.4"/>
<text x="150.4" y="154.6" font-size="9.5" fill="#1a1a1a" stroke="#1a1a1a" stroke-width="0.25" text-anchor="middle">42</text>
<line x1="177" y1="142" x2="177" y2="145.5" stroke="#111" stroke-width="1.4"/>
<text x="177" y="154.6" font-size="9.5" fill="#1a1a1a" stroke="#1a1a1a" stroke-width="0.25" text-anchor="middle">58</text>
<line x1="203.6" y1="142" x2="203.6" y2="145.5" stroke="#111" stroke-width="1.4"/>
<text x="203.6" y="154.6" font-size="9.5" fill="#1a1a1a" stroke="#1a1a1a" stroke-width="0.25" text-anchor="middle">142</text>
<text x="51.6" y="154.6" font-size="9.5" fill="#1a1a1a" stroke="#1a1a1a" stroke-width="0.25" text-anchor="middle">D</text>
<text x="128.4" y="168" font-size="11" fill="#111" stroke="#111" stroke-width="0.25" text-anchor="middle">Day of life</text>
<text transform="translate(14.2,88.9) rotate(-90)" font-size="8.85" font-weight="bold" fill="#111" text-anchor="middle">log(tet / total read)</text>
</g>
<rect x="664.6" y="27.6" width="81.6" height="98.2" fill="#fff" stroke="#222" stroke-width="1.3"/>
<circle cx="678.4" cy="38.3" r="1.4" fill="#5656e4"/>
<line x1="671.6" y1="53.8" x2="685.8" y2="53.8" stroke="#151515" stroke-width="2.2"/>
<line x1="671.6" y1="68.4" x2="685.8" y2="68.4" stroke="#ea4450" stroke-width="2"/>
<line x1="671.6" y1="84.6" x2="685.8" y2="84.6" stroke="#22c21f" stroke-width="2.2"/>
<line x1="671.6" y1="99.2" x2="685.8" y2="99.2" stroke="#555" stroke-width="1" stroke-dasharray="1.5,1"/>
<rect x="669.4" y="109.7" width="18.7" height="9" rx="1.5" fill="#ffa09c"/>
<text x="693" y="42" font-size="10.3" fill="#111" stroke="#111" stroke-width="0.2">Dam</text>
<text x="693" y="57.1" font-size="10.3" fill="#111" stroke="#111" stroke-width="0.2">Control</text>
<text x="693" y="72.2" font-size="10.3" fill="#111" stroke="#111" stroke-width="0.2">Amoxicillin</text>
<text x="693" y="87.4" font-size="10.3" fill="#111" stroke="#111" stroke-width="0.2">Tylosin</text>
<text x="693" y="102.6" font-size="10.3" fill="#111" stroke="#111" stroke-width="0.2">PAT</text>
<text x="693" y="117.8" font-size="10.3" fill="#111" stroke="#111" stroke-width="0.2">HFD</text>
</svg></body></html>
